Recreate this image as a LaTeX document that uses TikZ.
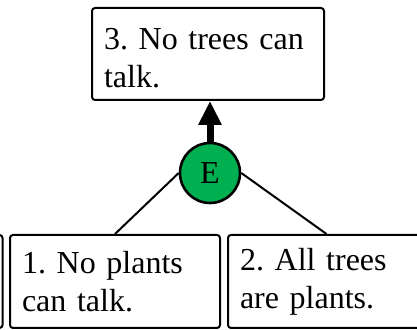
\documentclass[tikz,border=0pt]{standalone}
\usepackage{fontspec}
\setmainfont{Liberation Serif}
\usetikzlibrary{arrows.meta}
\definecolor{ruleGreen}{RGB}{0,176,80}
\begin{document}
\begin{tikzpicture}[x=0.5pt, y=0.5pt, line width=1pt,
    claim/.style={draw, rounded corners=1.5pt, align=left, inner xsep=6pt,
      minimum height=46.5pt, font=\fontsize{16}{19}\selectfont\frenchspacing},
    rulenode/.style={circle, draw, fill=ruleGreen, line width=1.3pt,
      minimum size=30pt, inner sep=0pt, font=\fontsize{16}{19}\selectfont}]
	% 0. canvas
	\useasboundingbox (0,0) rectangle (417,330);
	
	% 1. conclusion
	\node[claim, text width=104pt, minimum height=46pt] (concl) at (208,276) {\rule{0pt}{15pt}3. No trees can\\talk.};
	
	% 2. premises
	\node[claim, text width=84pt] (prem0) at (-93.5,48.5) {};
	\node[claim, text width=93pt] (prem1) at (115,48.5) {1. No plants\\can talk.};
	\node[claim, text width=86.5pt] (prem2) at (326.5,48.5) {2. All trees\\are plants.};
	
	% 3. rule
	\node[rulenode] (ruleE) at (210,157) {E};
	
	% 4. connectors
	\draw (ruleE.west) -- (prem1.north);
	\draw (ruleE.east) -- (prem2.north);
	\draw[line width=3.5pt, -{Triangle[width=11pt, length=12pt]}] (ruleE.north) -- (ruleE.north |- concl.south);
\end{tikzpicture}
\end{document}
